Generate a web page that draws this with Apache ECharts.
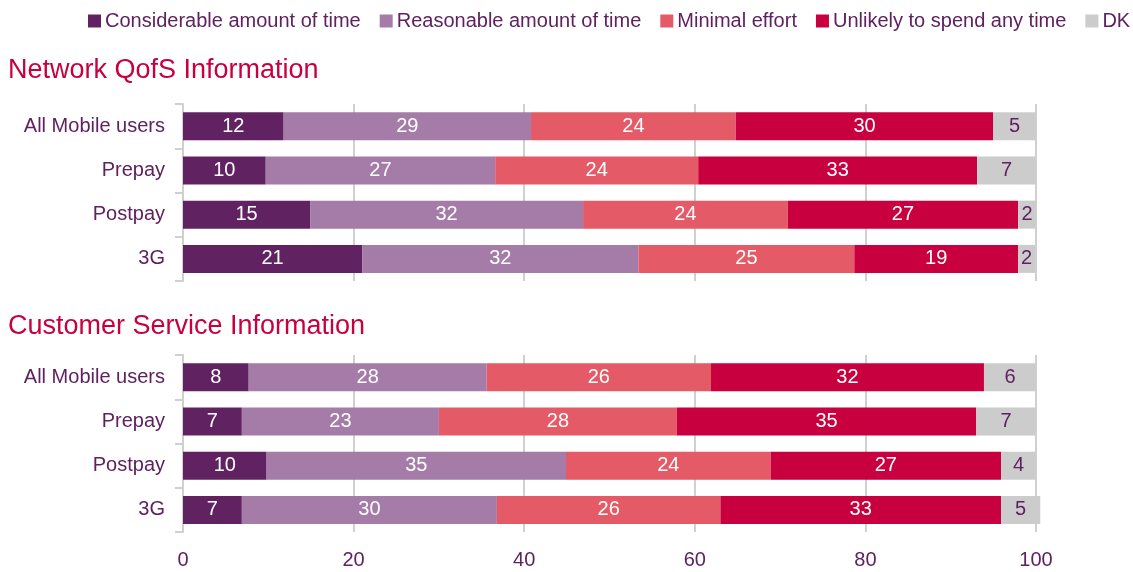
<!DOCTYPE html>
<html>
<head>
<meta charset="utf-8">
<script src="https://cdn.jsdelivr.net/npm/echarts@6/dist/echarts.min.js"></script>
<style>
  html, body { margin: 0; padding: 0; background: #fff; }
  #chartContainer { width: 1133px; height: 572px; }
</style>
</head>
<body>
<div id="chartContainer"></div>
<script>
const categories = ['All Mobile users', 'Prepay', 'Postpay', '3G'];
const seriesNames = ['Considerable amount of time', 'Reasonable amount of time', 'Minimal effort', 'Unlikely to spend any time', 'DK'];
const xTicks = [0, 20, 40, 60, 80, 100];

// Network QofS Information, one array per answer (All Mobile, Prepay, Postpay, 3G)
const networkConsiderable = [11.8, 9.7, 14.9, 21.0];
const networkReasonable = [29.0, 26.9, 32.0, 32.4];
const networkMinimal = [24.0, 23.8, 24.0, 25.3];
const networkUnlikely = [30.2, 32.7, 27.0, 19.2];
const networkDK = [5.0, 6.9, 2.1, 2.0];

// Customer Service Information
const serviceConsiderable = [7.7, 6.9, 9.8, 6.9];
const serviceReasonable = [27.9, 23.1, 35.1, 29.9];
const serviceMinimal = [26.3, 27.9, 24.0, 26.2];
const serviceUnlikely = [32.0, 35.1, 27.0, 32.9];
const serviceDK = [6.1, 7.0, 4.1, 4.6];

const colors = ['#612262', '#A57CA8', '#E55A67', '#C8003F', '#CCCCCC'];
const textPurple = '#5F2160';
const gridGrey = '#D0D0D0';
const fontFamily = '"Liberation Sans", Arial, sans-serif';

document.addEventListener('DOMContentLoaded', () => {
    const chartDom = document.getElementById('chartContainer');
    const myChart = echarts.init(chartDom);
    myChart.setOption(buildOption());
});

function buildSeries(values, gridIndex) {
    return values.map((data, i) => ({
        name: seriesNames[i],
        type: 'bar',
        stack: 'total' + gridIndex,
        xAxisIndex: gridIndex,
        yAxisIndex: gridIndex,
        barWidth: 28,
        clip: false,
        itemStyle: { color: colors[i] },
        label: {
            show: true,
            position: 'inside',
            color: i === 4 ? textPurple : '#fff',
            fontSize: 20,
            fontFamily: fontFamily,
            formatter: p => Math.round(p.value)
        },
        data: data
    }));
}

function buildOption() {
    const network = [networkConsiderable, networkReasonable, networkMinimal, networkUnlikely, networkDK];
    const service = [serviceConsiderable, serviceReasonable, serviceMinimal, serviceUnlikely, serviceDK];

    const xAxisBase = {
        type: 'value',
        min: xTicks[0],
        max: xTicks[xTicks.length - 1],
        interval: 20,
        axisLine: { show: false },
        axisTick: { show: false },
        splitLine: { show: true, lineStyle: { color: gridGrey, width: 2 } }
    };
    const yAxisBase = {
        type: 'category',
        data: categories,
        inverse: true,
        axisLine: { show: true, lineStyle: { color: gridGrey, width: 2 } },
        axisTick: { show: true, length: 8, lineStyle: { color: gridGrey, width: 2 } },
        axisLabel: { color: textPurple, fontSize: 20, fontFamily: fontFamily, margin: 18 }
    };

    return {
        animation: false,
        textStyle: { fontFamily: fontFamily },
        title: [
            { text: 'Network QofS Information', left: 3, top: 52, textStyle: { color: '#C8003F', fontSize: 27, fontWeight: 'normal' } },
            { text: 'Customer Service Information', left: 3, top: 308, textStyle: { color: '#C8003F', fontSize: 27, fontWeight: 'normal' } }
        ],
        legend: {
            data: seriesNames,
            top: 6,
            left: 83,
            width: 1050,
            itemWidth: 13,
            itemHeight: 13,
            itemGap: 19,
            icon: 'rect',
            textStyle: { color: textPurple, fontSize: 20, padding: [0, 0, 0, -1] }
        },
        grid: [
            { left: 183, right: 97, top: 104, height: 177 },
            { left: 183, right: 97, top: 355, height: 177 }
        ],
        xAxis: [
            Object.assign({}, xAxisBase, { gridIndex: 0, axisLabel: { show: false } }),
            Object.assign({}, xAxisBase, { gridIndex: 1, axisLabel: { color: textPurple, fontSize: 20, margin: 18 } })
        ],
        yAxis: [
            Object.assign({}, yAxisBase, { gridIndex: 0 }),
            Object.assign({}, yAxisBase, { gridIndex: 1 })
        ],
        series: buildSeries(network, 0).concat(buildSeries(service, 1))
    };
}
</script>
</body>
</html>
